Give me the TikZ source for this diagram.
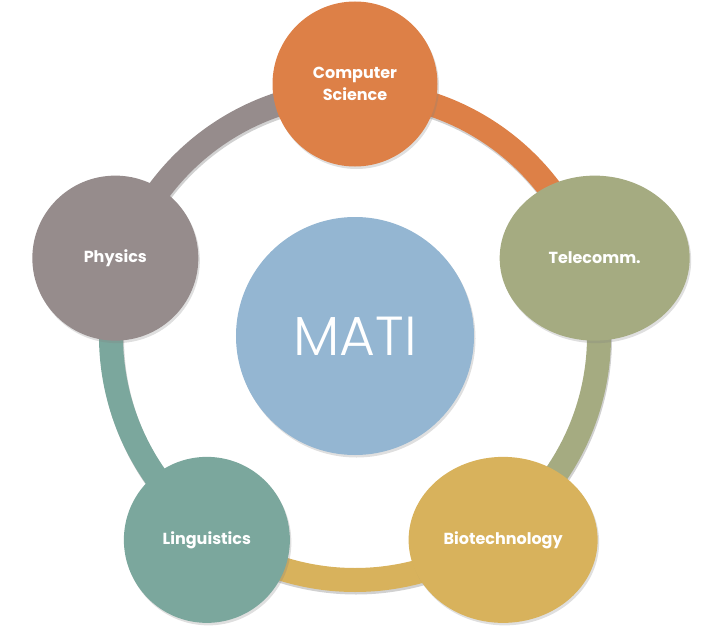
\documentclass[tikz,border=0pt]{standalone}
\usepackage{fontspec}
\newfontfamily\labelfont{Poppins}
\newfontfamily\matifont{Poppins Light}
\usetikzlibrary{shapes.geometric,shadows}
\definecolor{csorange}{HTML}{DD8047}
\definecolor{telegreen}{HTML}{A5AB81}
\definecolor{bioyellow}{HTML}{D8B25C}
\definecolor{lingteal}{HTML}{7BA79D}
\definecolor{physgray}{HTML}{968C8C}
\definecolor{matiblue}{HTML}{94B6D2}
\tikzset{
	bubble/.style={ellipse, fill=#1, text=white, inner sep=0pt, align=center,
		font=\labelfont\bfseries\fontsize{16}{19}\selectfont,
		drop shadow={shadow xshift=1.5pt, shadow yshift=-2.5pt, opacity=0.25}},
}
\def\ringseg(#1:#2)#3{\draw[line width=24pt, color=black, opacity=0.18, shift={(1,-2.5)}] (#1:244) arc (#1:#2:244);
	\draw[line width=24pt, color=#3] (#1:244) arc (#1:#2:244);}

\begin{document}
\begin{tikzpicture}[x=1pt, y=1pt]
			%%%%% START %%%%%
			\useasboundingbox (-355, -299) rectangle (367, 336);
			
			\ringseg(90:18){csorange}
			\ringseg(18:-54){telegreen}
			\ringseg(-54:-126){bioyellow}
			\ringseg(-126:-198){lingteal}
			\ringseg(162:90){physgray}
			
			\node[bubble=matiblue, minimum size=238pt, font=\matifont\fontsize{55}{60}\selectfont] (mati) at (0, 0) {\raisebox{-4pt}{MATI}};
			
			\node[bubble=csorange, minimum width=165pt, minimum height=165pt] (cs) at (90:252) {Computer\\[3pt]Science};
			\node[bubble=telegreen, minimum width=190pt, minimum height=165pt] (tele) at (18:252) {\raisebox{-2pt}{Telecomm.}};
			\node[bubble=bioyellow, minimum width=189pt, minimum height=166pt] (bio) at (306:252) {\raisebox{-2pt}{Biotechnology}};
			\node[bubble=lingteal, minimum width=166pt, minimum height=166pt] (ling) at (234:252) {\raisebox{-2pt}{Linguistics}};
			\node[bubble=physgray, minimum width=166pt, minimum height=165pt] (phys) at (162:252) {\raisebox{-2pt}{Physics}};
			
			%%%%% END %%%%%
		\end{tikzpicture}
\end{document}
